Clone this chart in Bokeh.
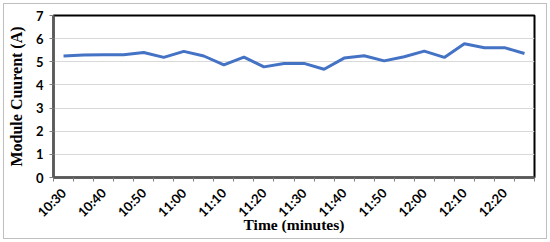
import math
from bokeh.plotting import figure
from bokeh.models import FixedTicker, Range1d
from bokeh.embed import file_html
from bokeh.resources import INLINE

times = ["10:30", "10:35", "10:40", "10:45", "10:50", "10:55", "11:00", "11:05",
         "11:10", "11:15", "11:20", "11:25", "11:30", "11:35", "11:40", "11:45",
         "11:50", "11:55", "12:00", "12:05", "12:10", "12:15", "12:20", "12:25"]
current = [5.25, 5.29, 5.30, 5.30, 5.40, 5.19, 5.45, 5.25,
           4.87, 5.20, 4.78, 4.93, 4.93, 4.68, 5.16, 5.26,
           5.04, 5.22, 5.46, 5.19, 5.78, 5.61, 5.61, 5.36]
y_ticks = [0, 1, 2, 3, 4, 5, 6, 7]

xs = list(range(len(times)))

p = figure(frame_width=481, frame_height=162, output_backend="svg",
           toolbar_location=None, x_range=Range1d(-0.5, len(times) - 0.5),
           y_range=Range1d(0, 7))
p.min_border_left = 53
p.min_border_top = 15
p.min_border_right = 16
p.min_border_bottom = 65
p.styles = {"box-shadow": "inset 0 0 0 3px white, inset 0 0 0 4px #BFBFBF",
            "background-color": "white"}
p.background_fill_color = "white"
p.border_fill_alpha = 0

p.line(xs, current, line_color="#4472C4", line_width=3)

p.outline_line_color = "black"
p.outline_line_width = 2

label_idx = xs[::2]
xt = FixedTicker(ticks=label_idx,
                 minor_ticks=[i - 0.5 for i in range(len(times) + 1)])
p.xaxis.ticker = xt
p.xaxis.major_label_overrides = {i: times[i] for i in label_idx}
p.xaxis.major_tick_out = 0
p.xaxis.major_tick_in = 0
p.xaxis.minor_tick_out = 4
p.xaxis.minor_tick_in = 0
p.xaxis.minor_tick_line_color = "#7F7F7F"
p.xaxis.major_label_orientation = math.pi / 4
p.xaxis.major_label_standoff = 9
p.xaxis.axis_line_color = "#595959"
p.xaxis.axis_line_width = 2.5
p.xaxis.axis_label = "Time (minutes)"
p.xaxis.axis_label_standoff = -13

p.yaxis.ticker = FixedTicker(ticks=y_ticks)
p.yaxis.minor_tick_line_color = None
p.yaxis.major_tick_out = 4
p.yaxis.major_tick_in = 0
p.yaxis.major_tick_line_color = "#7F7F7F"
p.yaxis.axis_line_color = "#595959"
p.yaxis.axis_line_width = 2.5
p.yaxis.axis_label = "Module Cuurent (A)"
p.yaxis.axis_label_standoff = 8
p.yaxis.major_label_standoff = 6

for ax in (p.xaxis, p.yaxis):
    ax.major_label_text_font = "Lato"
    ax.major_label_text_font_style = "bold"
    ax.major_label_text_font_size = "13px"
    ax.major_label_text_color = "black"
    ax.axis_label_text_font = "Liberation Serif"
    ax.axis_label_text_font_style = "bold"
    ax.axis_label_text_color = "black"
p.yaxis.axis_label_text_font_size = "16px"
p.xaxis.axis_label_text_font_size = "15.5px"

p.xgrid.grid_line_color = None
p.ygrid.ticker = FixedTicker(ticks=y_ticks)
p.ygrid.grid_line_color = "#D9D9D9"
p.ygrid.grid_line_width = 1

open("out.html", "w").write(file_html(p, INLINE))
